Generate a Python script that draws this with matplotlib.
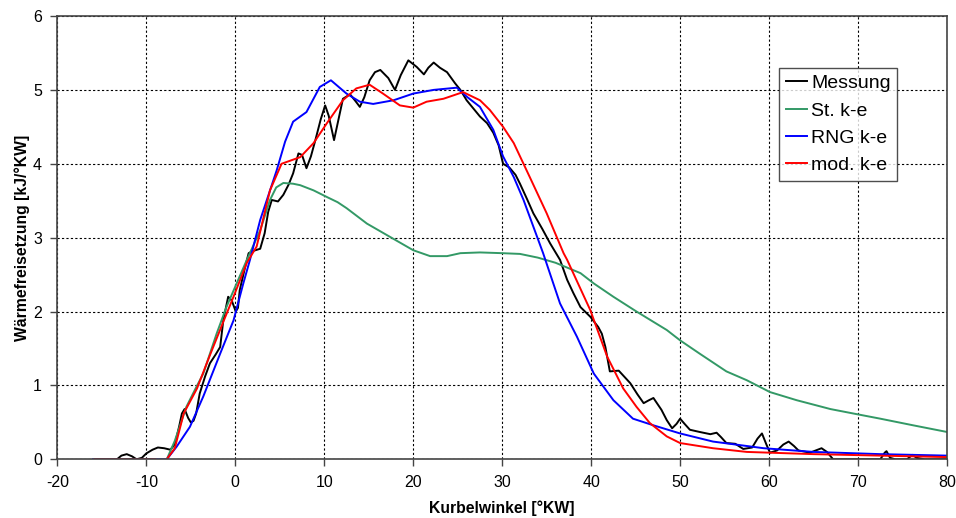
import numpy as np
import matplotlib
matplotlib.use("Agg")
import matplotlib.pyplot as plt

plt.rcParams["font.family"] = ["Liberation Sans", "DejaVu Sans"]
plt.rcParams["axes.unicode_minus"] = False

# Messung (measured heat release)
messung_x = [-13.3, -12.8, -12.2, -11.6, -11.1, -10.5, -10.0, -9.3, -8.7, -8.0, -7.3, -6.8, -6.3,
             -6.0, -5.7, -5.3, -5.0, -4.7, -4.4, -4.0, -3.4, -2.85, -2.2, -1.7, -1.35, -0.8, -0.4,
             0.05, 0.3, 0.5, 1.1, 1.5, 2.0, 2.8, 3.3, 3.7, 4.1, 4.8, 5.4, 6.0, 6.5, 7.1, 7.5, 8.0,
             8.5, 9.0, 9.6, 10.1, 10.5, 11.1, 11.6, 12.1, 12.9, 13.5, 14.0, 14.5, 15.1, 15.7, 16.3,
             17.2, 17.95, 18.6, 19.45, 20.4, 21.2, 21.7, 22.3, 23.0, 23.8, 24.7, 25.3, 26.0, 27.5,
             28.3, 29.0, 29.6, 30.1, 30.8, 31.5, 32.0, 32.8, 33.5, 34.5, 35.4, 36.5, 37.3, 38.0,
             38.8, 39.9, 40.8, 41.2, 41.6, 42.1, 43.1, 44.4, 45.2, 45.9, 46.5, 47.0, 47.9, 48.5,
             49.1, 49.6, 50.0, 50.5, 51.1, 52.2, 53.4, 54.1, 54.6, 55.2, 56.2, 57.1, 58.1, 58.7,
             59.2, 59.7, 60.1, 60.9, 61.6, 62.2, 62.8, 63.3, 64.6, 65.9, 66.5, 67.2, 68.5, 70.0,
             72.5, 73.0, 73.2, 73.6, 74.2, 75.5, 76.1, 76.6, 77.5, 80.0]
messung_y = [0.0, 0.05, 0.07, 0.04, 0.0, 0.02, 0.08, 0.13, 0.16, 0.15, 0.13, 0.2, 0.45,
             0.62, 0.68, 0.56, 0.50, 0.52, 0.62, 0.89, 1.12, 1.30, 1.42, 1.52, 1.88, 2.2, 2.15,
             2.0, 2.05, 2.29, 2.6, 2.79, 2.82, 2.85, 3.06, 3.35, 3.51, 3.49, 3.58, 3.72, 3.87, 4.14, 4.12, 3.94,
             4.1, 4.32, 4.6, 4.79, 4.65, 4.32, 4.6, 4.88, 4.94, 4.85, 4.77, 4.9, 5.13, 5.24, 5.27,
             5.16, 5.0, 5.2, 5.40, 5.31, 5.21, 5.30, 5.37, 5.30, 5.24, 5.09, 5.0, 4.86, 4.64,
             4.55, 4.42, 4.25, 4.0, 3.95, 3.85, 3.73, 3.52, 3.33, 3.12, 2.92, 2.70, 2.43, 2.25,
             2.06, 1.93, 1.79, 1.70, 1.52, 1.19, 1.2, 1.03, 0.88, 0.76, 0.80, 0.83, 0.67, 0.53,
             0.42, 0.48, 0.55, 0.48, 0.40, 0.37, 0.34, 0.36, 0.30, 0.22, 0.21, 0.14, 0.16, 0.28,
             0.35, 0.2, 0.09, 0.12, 0.2, 0.24, 0.18, 0.12, 0.09, 0.15, 0.1, 0.0, 0.0, 0.0,
             0.0, 0.09, 0.11, 0.02, 0.0, 0.0, 0.06, 0.02, 0.0, 0.0]

# St. k-e
std_x = [-7.7, -6.8, -5.5, -4.5, -3.6, -2.1, -1.0, 0.15, 1.3, 2.8, 3.9, 4.6, 5.4, 6.5, 7.3, 8.8,
         10.3, 11.5, 12.5, 14.8, 17.4, 20.0, 21.9, 23.8, 25.3, 27.5, 30.0, 32.0, 34.0, 36.0, 38.8,
         40.3, 42.5, 45.1, 48.5, 50.0, 52.2, 55.2, 57.5, 60.1, 63.1, 66.9, 69.9, 72.5, 76.2, 80.0]
std_y = [0.0, 0.25, 0.71, 0.95, 1.16, 1.70, 2.06, 2.38, 2.70, 3.10, 3.51, 3.68, 3.74, 3.73, 3.71, 3.64,
         3.55, 3.48, 3.40, 3.19, 3.01, 2.83, 2.75, 2.75, 2.79, 2.80, 2.79, 2.78, 2.73, 2.66, 2.52,
         2.38, 2.2, 2.0, 1.75, 1.61, 1.43, 1.19, 1.07, 0.91, 0.80, 0.68, 0.61, 0.55, 0.46, 0.37]

# RNG k-e
rng_x = [-16.0, -7.7, -6.6, -5.1, -3.6, -1.7, -0.2, 0.9, 1.65, 2.8, 4.65, 5.6, 6.5, 8.0, 9.5, 10.75,
         12.5, 14.0, 15.5, 17.8, 20.0, 22.3, 24.9, 26.0, 27.5, 29.0, 30.1, 31.3, 32.4, 34.6, 36.5,
         38.4, 40.3, 42.5, 44.7, 47.0, 50.0, 53.7, 59.4, 65.0, 72.5, 80.0]
rng_y = [0.0, 0.0, 0.17, 0.44, 0.85, 1.43, 1.88, 2.38, 2.70, 3.24, 3.91, 4.30, 4.57, 4.70, 5.04, 5.13,
         4.95, 4.84, 4.81, 4.86, 4.95, 5.0, 5.03, 4.91, 4.77, 4.46, 4.10, 3.82, 3.51, 2.79, 2.11,
         1.66, 1.16, 0.80, 0.55, 0.46, 0.35, 0.24, 0.15, 0.10, 0.07, 0.05]

# mod. k-e
mod_x = [-15.8, -9.0, np.nan, -7.7, -6.8, -5.8, -4.3, -2.85, -1.35, -0.2, 1.3, 2.4, 3.9, 5.2, 7.3,
         8.8, 10.3, 12.1, 13.6, 15.1, 16.6, 18.5, 20.0, 21.5, 23.4, 25.6, 27.5, 28.6, 30.1, 31.3,
         33.1, 35.0, 36.9, 37.3, 39.9, 41.8, 43.6, 45.1, 46.6, 48.5, 50.0, 53.7, 57.5, 65.0, 80.0]
mod_y = [0.0, 0.0, np.nan, 0.0, 0.15, 0.62, 0.96, 1.41, 1.86, 2.20, 2.66, 2.88, 3.64, 4.0, 4.09,
         4.28, 4.55, 4.86, 5.02, 5.07, 4.95, 4.79, 4.76, 4.84, 4.88, 4.97, 4.86, 4.73, 4.50, 4.28,
         3.82, 3.33, 2.79, 2.70, 2.02, 1.39, 0.96, 0.71, 0.49, 0.31, 0.22, 0.15, 0.10, 0.07, 0.03]

fig = plt.figure(figsize=(9.56, 5.18), dpi=100)
ax = fig.add_axes([0.060, 0.1133, 0.9306, 0.8558])

ax.plot(messung_x, messung_y, color="#000000", lw=1.4, label="Messung")
ax.plot(std_x, std_y, color="#339966", lw=1.4, label="St. k-e")
ax.plot(rng_x, rng_y, color="#0000FF", lw=1.4, label="RNG k-e")
ax.plot(mod_x, mod_y, color="#FF0000", lw=1.4, label="mod. k-e")

ax.set_xlim(-20, 80)
ax.set_ylim(0, 6)
ax.set_xticks(range(-20, 81, 10))
ax.set_yticks(range(0, 7))
ax.grid(True, color="#000000", linestyle=(0, (2, 2)), linewidth=0.8)
ax.set_axisbelow(True)

for s in ax.spines.values():
    s.set_color("#444444")
    s.set_linewidth(1.2)
ax.tick_params(direction="out", length=5, width=1, color="#444444",
               labelsize=11.5, pad=6)

ax.set_xlabel("Kurbelwinkel [°KW]", fontsize=11.3, fontweight="bold", labelpad=8)
ax.set_ylabel("Wärmefreisetzung [kJ/°KW]", fontsize=11.3, fontweight="bold", labelpad=2)

leg = ax.legend(loc="upper left", bbox_to_anchor=(0.811, 0.883), fontsize=14,
                frameon=True, fancybox=False, handlelength=1.1, handletextpad=0.2,
                labelspacing=0.5, borderpad=0.35, borderaxespad=0)
leg.get_frame().set_edgecolor("#222222")
leg.get_frame().set_linewidth(1.0)

fig.savefig("out.png", dpi=100)
